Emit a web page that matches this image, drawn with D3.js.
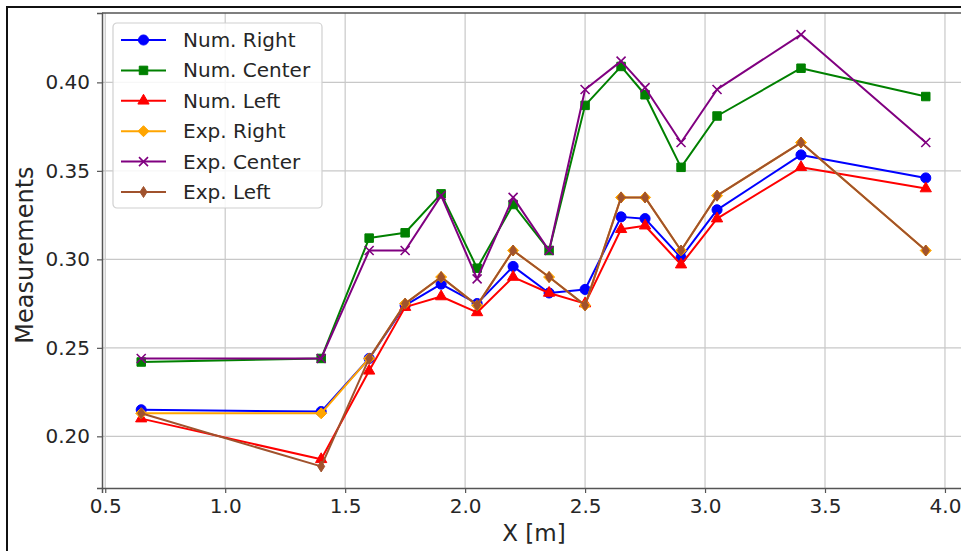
<!DOCTYPE html>
<html>
<head>
<meta charset="utf-8">
<script src="https://cdn.jsdelivr.net/npm/d3@7"></script>
<style>
  body { margin: 0; background: #fff; }
  svg { display: block; font-family: "DejaVu Sans", sans-serif; }
</style>
</head>
<body>
<div id="chart"></div>
<script>
// x positions [m]
var xs = [0.65, 1.4, 1.6, 1.75, 1.9, 2.05, 2.2, 2.35, 2.5, 2.65, 2.75, 2.9, 3.05, 3.4, 3.92];

// series values
var numRight  = [0.215, 0.214, 0.244, 0.274, 0.286, 0.275, 0.296, 0.281, 0.283, 0.324, 0.323, 0.301, 0.328, 0.359, 0.346];
var numCenter = [0.242, 0.244, 0.312, 0.315, 0.337, 0.295, 0.331, 0.305, 0.387, 0.409, 0.393, 0.352, 0.381, 0.408, 0.392];
var numLeft   = [0.210, 0.187, 0.237, 0.273, 0.279, 0.270, 0.290, 0.281, 0.275, 0.317, 0.319, 0.297, 0.323, 0.352, 0.340];
var expRight  = [0.213, 0.213, 0.244, 0.275, 0.290, 0.274, 0.305, 0.290, 0.274, 0.335, 0.335, 0.305, 0.336, 0.366, 0.305];
var expCenter = [0.244, 0.244, 0.305, 0.305, 0.336, 0.289, 0.335, 0.305, 0.396, 0.412, 0.397, 0.366, 0.396, 0.427, 0.366];
var expLeft   = [0.213, 0.183, 0.244, 0.275, 0.290, 0.274, 0.305, 0.290, 0.274, 0.335, 0.335, 0.305, 0.336, 0.366, 0.305];

var seriesNames = ['Num. Right', 'Num. Center', 'Num. Left', 'Exp. Right', 'Exp. Center', 'Exp. Left'];

var xTicks = [0.5, 1.0, 1.5, 2.0, 2.5, 3.0, 3.5, 4.0];
var yTicks = [0.20, 0.25, 0.30, 0.35, 0.40];

var W = 961, H = 551;
var margin = { top: 13, right: -4, bottom: 63, left: 102 };
var width = W - margin.left - margin.right,
    height = H - margin.top - margin.bottom;

var series = [
    { name: seriesNames[0], values: numRight,  color: '#0000ff', marker: 'circle' },
    { name: seriesNames[1], values: numCenter, color: '#008000', marker: 'square' },
    { name: seriesNames[2], values: numLeft,   color: '#ff0000', marker: 'triangle' },
    { name: seriesNames[3], values: expRight,  color: '#ffa500', marker: 'diamond' },
    { name: seriesNames[4], values: expCenter, color: '#800080', marker: 'x' },
    { name: seriesNames[5], values: expLeft,   color: '#a0522d', marker: 'thindiamond' }
];

// scales (matplotlib-like 5% margins)
var x = d3.scaleLinear().domain([0.4865, 4.0835]).range([0, width]);
var y = d3.scaleLinear().domain([0.1708, 0.4392]).range([height, 0]);

var svg = d3.select('#chart').append('svg')
    .attr('width', W)
    .attr('height', H);

var g = svg.append('g')
    .attr('transform', 'translate(' + margin.left + ',' + margin.top + ')');

g.append('clipPath').attr('id', 'clip')
    .append('rect').attr('width', width).attr('height', height);

// grid
g.append('g').selectAll('line').data(xTicks).enter().append('line')
    .attr('x1', function (d) { return x(d); })
    .attr('x2', function (d) { return x(d); })
    .attr('y1', 0).attr('y2', height)
    .attr('stroke', '#c8c8c8').attr('stroke-width', 1.2);
g.append('g').selectAll('line').data(yTicks).enter().append('line')
    .attr('y1', function (d) { return y(d); })
    .attr('y2', function (d) { return y(d); })
    .attr('x1', 0).attr('x2', width)
    .attr('stroke', '#c8c8c8').attr('stroke-width', 1.2);

// axes
var xAxis = g.append('g')
    .attr('transform', 'translate(0,' + height + ')')
    .call(d3.axisBottom(x).tickValues(xTicks).tickFormat(d3.format('.1f')).tickSize(5).tickPadding(6));
var yAxis = g.append('g')
    .call(d3.axisLeft(y).tickValues(yTicks).tickFormat(d3.format('.2f')).tickSize(5).tickPadding(7));

[xAxis, yAxis].forEach(function (a) {
    a.select('.domain').attr('stroke', '#555').attr('stroke-width', 1.5);
    a.selectAll('.tick line').attr('stroke', '#555').attr('stroke-width', 1.2);
    a.selectAll('.tick text').attr('fill', '#262626')
        .style('font-size', '20px').style('font-family', '"DejaVu Sans", sans-serif');
});

// top spine
g.append('line')
    .attr('x1', 0).attr('x2', width).attr('y1', 0).attr('y2', 0)
    .attr('stroke', '#555').attr('stroke-width', 1.5);

// marker shapes
function markerPath(type) {
    switch (type) {
        case 'circle': return d3.symbol().type(d3.symbolCircle).size(80)();
        case 'square': return d3.symbol().type(d3.symbolSquare).size(72)();
        case 'triangle': return d3.symbol().type(d3.symbolTriangle).size(55)();
        case 'diamond': return 'M0,-5.5L5.5,0L0,5.5L-5.5,0Z';
        case 'thindiamond': return 'M0,-5.5L3.5,0L0,5.5L-3.5,0Z';
        case 'x': return 'M-4.5,-4.5L4.5,4.5M-4.5,4.5L4.5,-4.5';
    }
}

var valueline = d3.line()
    .x(function (d, i) { return x(xs[i]); })
    .y(function (d) { return y(d); });

var plot = g.append('g').attr('clip-path', 'url(#clip)');

series.forEach(function (s) {
    var sg = plot.append('g');
    sg.append('path')
        .datum(s.values)
        .attr('fill', 'none')
        .attr('stroke', s.color)
        .attr('stroke-width', 2)
        .attr('stroke-linejoin', 'round')
        .attr('d', valueline);
    sg.selectAll('.mark')
        .data(s.values)
        .enter().append('path')
        .attr('class', 'mark')
        .attr('d', markerPath(s.marker))
        .attr('transform', function (d, i) { return 'translate(' + x(xs[i]) + ',' + y(d) + ')'; })
        .attr('fill', s.marker === 'x' ? 'none' : s.color)
        .attr('stroke', s.color)
        .attr('stroke-width', s.marker === 'x' ? 1.6 : 1);
});

// axis labels
svg.append('text')
    .attr('x', 534).attr('y', 541)
    .attr('text-anchor', 'middle')
    .attr('fill', '#262626')
    .style('font-size', '23px')
    .text('X [m]');

svg.append('text')
    .attr('transform', 'translate(33,255) rotate(-90)')
    .attr('text-anchor', 'middle')
    .attr('fill', '#262626')
    .style('font-size', '24px')
    .text('Measurements');

// legend
var legend = svg.append('g').attr('transform', 'translate(113,23)');
legend.append('rect')
    .attr('width', 209).attr('height', 185)
    .attr('rx', 4)
    .attr('fill', 'white').attr('fill-opacity', 0.85)
    .attr('stroke', '#d0d0d0').attr('stroke-width', 1.2);

series.forEach(function (s, i) {
    var ly = 17 + i * 30.4;
    var row = legend.append('g').attr('transform', 'translate(0,' + ly + ')');
    row.append('line')
        .attr('x1', 8).attr('x2', 53).attr('y1', 0).attr('y2', 0)
        .attr('stroke', s.color).attr('stroke-width', 2);
    row.append('path')
        .attr('d', markerPath(s.marker))
        .attr('transform', 'translate(30.5,0)')
        .attr('fill', s.marker === 'x' ? 'none' : s.color)
        .attr('stroke', s.color)
        .attr('stroke-width', s.marker === 'x' ? 1.6 : 1);
    row.append('text')
        .attr('x', 70).attr('y', 0)
        .attr('dy', '0.35em')
        .attr('fill', '#262626')
        .style('font-size', '20px')
        .text(s.name);
});

// outer frame of the screenshot
svg.append('path')
    .attr('d', 'M7,' + H + 'L7,7L' + W + ',7')
    .attr('fill', 'none')
    .attr('stroke', '#111')
    .attr('stroke-width', 2);
</script>
</body>
</html>
